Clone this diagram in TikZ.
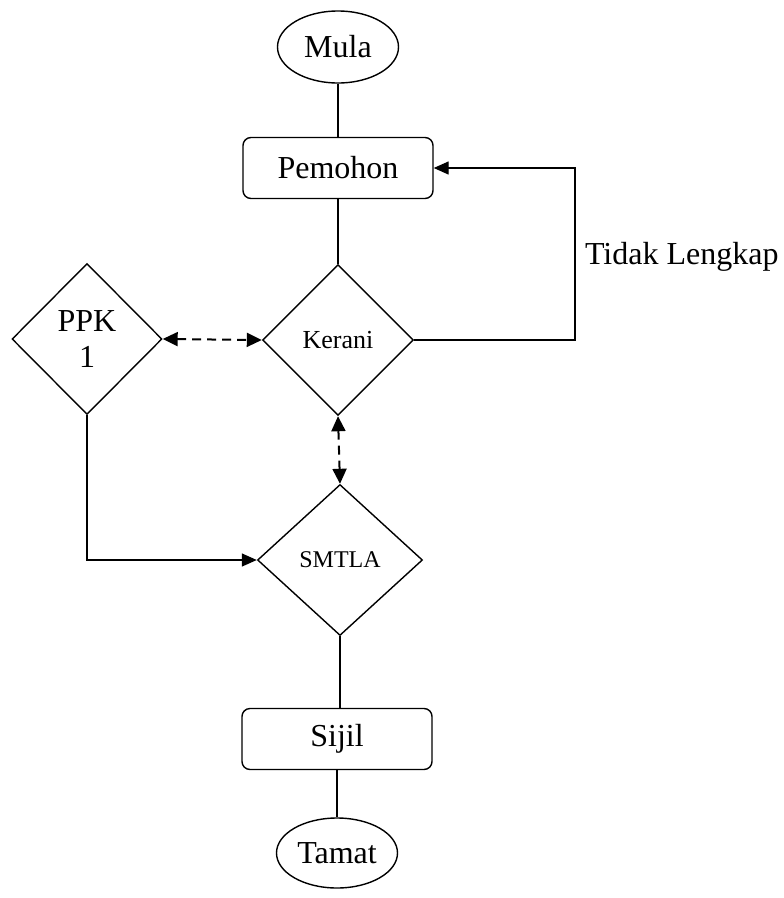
\documentclass[tikz,border=0pt]{standalone}
\usepackage{fontspec}
\setmainfont{Liberation Serif}
\usetikzlibrary{arrows.meta,shapes.geometric}

\begin{document}
\begin{tikzpicture}[x=1pt,y=-1pt,line width=1.4pt,
  terminal/.style={draw,ellipse,inner sep=0pt,minimum width=121pt,minimum height=72pt,font=\fontsize{32}{38}\selectfont},
  process/.style={draw,rounded corners=8pt,inner sep=0pt,minimum width=190pt,minimum height=61pt,font=\fontsize{32}{38}\selectfont},
  decision/.style={draw,diamond,inner sep=0pt,minimum width=151pt,minimum height=151pt},
  flow/.style={-{Triangle[length=15pt,width=13pt]}},
  link/.style={{Triangle[length=15pt,width=14pt]}-{Triangle[length=15pt,width=14pt]},line width=2pt,dash pattern=on 9pt off 6pt}]
\useasboundingbox (0,0) rectangle (784,898);
% nodes
\node[terminal] (mula) at (338,47) {Mula};
\node[process] (pemohon) at (338,168) {Pemohon};
\node[decision,font=\fontsize{26}{30}\selectfont] (kerani) at (338,340) {Kerani};
\node[decision,minimum width=150pt,align=center,font=\fontsize{32}{36}\selectfont] (ppk) at (87,339) {PPK\\1};
\node[decision,minimum width=165pt,font=\fontsize{24}{28}\selectfont] (smtla) at (340,560) {SMTLA};
\node[process] (sijil) at (337,739) {Sijil};
\node[terminal,minimum height=70pt] (tamat) at (337,853) {Tamat};
\coordinate (back) at (575,0);
\node[anchor=west,font=\fontsize{32}{38}\selectfont] (lbl) at (581,257) {Tidak Lengkap};
% connectors
\draw (mula) -- (pemohon);
\draw (pemohon) -- (kerani);
\draw[flow] (kerani.east) -- (kerani.east -| back) |- (pemohon.east);
\draw[link] (ppk.east) -- (kerani.west);
\draw[link] (kerani.south) -- (smtla.north);
\draw[flow] (ppk.south) |- (smtla.west);
\draw (smtla.south) -- (smtla.south |- sijil.north);
\draw (sijil) -- (tamat);
\end{tikzpicture}
\end{document}
